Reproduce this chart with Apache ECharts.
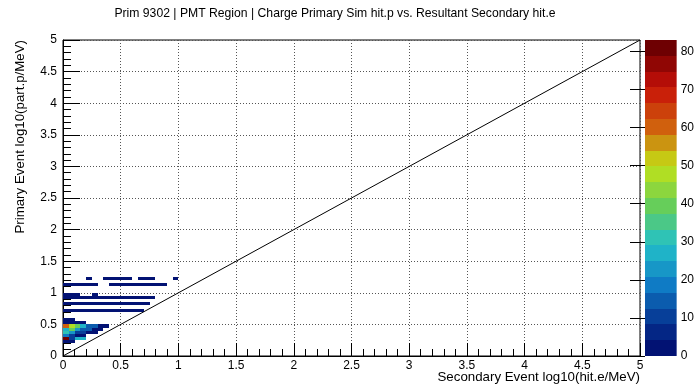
<!DOCTYPE html>
<html>
<head>
<meta charset="utf-8">
<script src="https://cdn.jsdelivr.net/npm/echarts@6/dist/echarts.min.js"></script>
<style>
  html, body { margin: 0; padding: 0; background: #fff; }
  #chart { width: 697px; height: 384px; }
</style>
</head>
<body>
<div id="chart"></div>
<script>
// ---- text ----
const titleText = 'Prim 9302 | PMT Region | Charge Primary Sim hit.p vs. Resultant Secondary hit.e';
const xTitle = 'Secondary Event log10(hit.e/MeV)';
const yTitle = 'Primary Event log10(part.p/MeV)';

// ---- histogram binning ----
const binHeight = 0.05;

// Filled bins, written as runs along x: [xLow, xHigh, yLow, content]
const runsUpper = [
  [0.20, 0.25, 1.20, 1], [0.35, 0.60, 1.20, 1], [0.65, 0.80, 1.20, 1], [0.95, 1.00, 1.20, 1],
  [0.00, 0.30, 1.10, 2], [0.40, 0.90, 1.10, 1],
  [0.00, 0.15, 0.95, 2], [0.25, 0.30, 0.95, 1],
  [0.00, 0.80, 0.90, 2],
  [0.00, 0.75, 0.80, 2],
  [0.00, 0.70, 0.70, 2]
];
const runsCore = [
  [0.00, 0.10, 0.55, 2],
  [0.00, 0.20, 0.50, 3],
  [0.00, 0.05, 0.45, 60], [0.05, 0.10, 0.45, 49], [0.10, 0.15, 0.45, 40], [0.15, 0.20, 0.45, 29], [0.20, 0.30, 0.45, 14], [0.30, 0.40, 0.45, 3],
  [0.00, 0.05, 0.40, 27], [0.05, 0.10, 0.40, 41], [0.10, 0.15, 0.40, 22], [0.15, 0.25, 0.40, 13], [0.25, 0.35, 0.40, 3],
  [0.00, 0.05, 0.35, 31], [0.05, 0.10, 0.35, 24], [0.10, 0.20, 0.35, 12], [0.20, 0.30, 0.35, 3],
  [0.00, 0.05, 0.30, 17], [0.05, 0.10, 0.30, 10], [0.10, 0.20, 0.30, 3],
  [0.00, 0.05, 0.25, 83], [0.05, 0.10, 0.25, 9], [0.10, 0.20, 0.25, 25],
  [0.00, 0.10, 0.20, 3]
];

// y = x reference line
const diagonal = [[0, 0], [5, 5]];

// ---- colour scale ----
const zMax = 83;
const nContours = 20;
const paletteTicks = [0, 10, 20, 30, 40, 50, 60, 70, 80];

// rainbow palette stops (r, g, b in 0..255), evenly spaced from 0 to 1
const stopR = [0, 5, 15, 35, 102, 196, 208, 199, 110];
const stopG = [0, 48, 124, 192, 206, 226, 97, 16, 0];
const stopB = [99, 142, 198, 201, 90, 22, 13, 8, 2];

function paletteColor(t) {
  const n = stopR.length - 1;
  const f = Math.min(Math.max(t, 0), 1) * n;
  const i = Math.min(Math.floor(f), n - 1);
  const u = f - i;
  const mix = (a) => Math.round(a[i] + (a[i + 1] - a[i]) * u);
  return 'rgb(' + mix(stopR) + ',' + mix(stopG) + ',' + mix(stopB) + ')';
}
// colour of contour band k (255-colour table sampled per band)
function bandColor(k) {
  const idx = Math.floor((k + 0.99) * 255 / nContours);
  return paletteColor(Math.min(idx, 254) / 254);
}
function bandOf(v) {
  return Math.min(nContours - 1, Math.floor(v / zMax * nContours));
}

const bands = [];
for (let k = 0; k < nContours; k++) {
  bands.push([k * zMax / nContours, (k + 1) * zMax / nContours, k]);
}

const FONT = 'Liberation Sans, Arial, Helvetica, sans-serif';

const chart = echarts.init(document.getElementById('chart'), null, { renderer: 'canvas' });

function cellRenderer(params, api) {
  const p0 = api.coord([api.value(0), api.value(2) + binHeight]);
  const p1 = api.coord([api.value(1), api.value(2)]);
  const x0 = Math.round(p0[0]), y0 = Math.round(p0[1]);
  const x1 = Math.round(p1[0]), y1 = Math.round(p1[1]);
  return {
    type: 'rect',
    shape: { x: x0, y: y0, width: x1 - x0, height: y1 - y0 },
    style: { fill: bandColor(bandOf(api.value(3))) }
  };
}

const tickStyle = { color: '#000', width: 1 };
const gridStyle = { color: '#555', width: 1, type: [1, 2] };

chart.setOption({
  animation: false,
  backgroundColor: '#fff',
  grid: [
    { left: 63, right: 57, top: 40, bottom: 28, show: true, borderColor: '#000', borderWidth: 1, backgroundColor: 'transparent' },
    { left: 645, right: 20, top: 40, bottom: 28 }
  ],
  xAxis: [
    {
      gridIndex: 0, type: 'value', min: 0, max: 5, interval: 0.5,
      axisLine: { show: true, onZero: false, lineStyle: tickStyle },
      axisTick: { show: true, inside: true, length: 13, lineStyle: tickStyle },
      minorTick: { show: true, splitNumber: 5, length: 7, lineStyle: tickStyle },
      axisLabel: { margin: 4, fontSize: 12, color: '#000', fontFamily: FONT },
      splitLine: { show: true, lineStyle: gridStyle }
    },
    { gridIndex: 1, type: 'value', min: 0, max: 1, show: false }
  ],
  yAxis: [
    {
      gridIndex: 0, type: 'value', min: 0, max: 5, interval: 0.5,
      axisLine: { show: true, onZero: false, lineStyle: tickStyle },
      axisTick: { show: true, inside: true, length: 17, lineStyle: tickStyle },
      minorTick: { show: true, splitNumber: 5, length: 8, lineStyle: tickStyle },
      axisLabel: { margin: 6, fontSize: 12, color: '#000', fontFamily: FONT },
      splitLine: { show: true, lineStyle: gridStyle }
    },
    {
      gridIndex: 1, type: 'value', min: 0, max: zMax, position: 'right',
      axisLine: { show: false },
      axisTick: { show: true, inside: true, length: 15, lineStyle: { color: '#000', width: 1 }, customValues: paletteTicks },
      axisLabel: { margin: 4, fontSize: 12, color: '#000', fontFamily: FONT, customValues: paletteTicks },
      splitLine: { show: false }
    }
  ],
  series: [
    {
      type: 'custom', name: 'upper', xAxisIndex: 0, yAxisIndex: 0,
      encode: { x: [0, 1], y: 2 }, data: runsUpper, renderItem: cellRenderer, z: 2
    },
    {
      type: 'custom', name: 'core', xAxisIndex: 0, yAxisIndex: 0,
      encode: { x: [0, 1], y: 2 }, data: runsCore, renderItem: cellRenderer, z: 2
    },
    {
      type: 'line', name: 'diagonal', xAxisIndex: 0, yAxisIndex: 0,
      data: diagonal, symbol: 'none', silent: true, z: 3,
      lineStyle: { color: '#000', width: 1 }
    },
    {
      type: 'custom', name: 'palette', xAxisIndex: 1, yAxisIndex: 1,
      encode: { y: [0, 1] }, data: bands, z: 1,
      renderItem: function (params, api) {
        const p0 = api.coord([0, api.value(1)]);
        const p1 = api.coord([1, api.value(0)]);
        const y0 = Math.round(p0[1]), y1 = Math.round(p1[1]);
        return {
          type: 'rect',
          shape: { x: p0[0], y: y0, width: p1[0] - p0[0], height: y1 - y0 },
          style: { fill: bandColor(api.value(2)) }
        };
      }
    }
  ],
  graphic: [
    {
      type: 'text', x: 335, y: 14,
      style: { text: titleText, fill: '#000', font: '12.2px ' + FONT, textAlign: 'center', textVerticalAlign: 'middle' }
    },
    {
      type: 'text', x: 640, y: 377,
      style: { text: xTitle, fill: '#000', font: '13.3px ' + FONT, textAlign: 'right', textVerticalAlign: 'middle' }
    },
    {
      type: 'text', x: 20, y: 40, rotation: Math.PI / 2,
      style: { text: yTitle, fill: '#000', font: '13.3px ' + FONT, textAlign: 'right', textVerticalAlign: 'middle' }
    }
  ]
});
</script>
</body>
</html>
